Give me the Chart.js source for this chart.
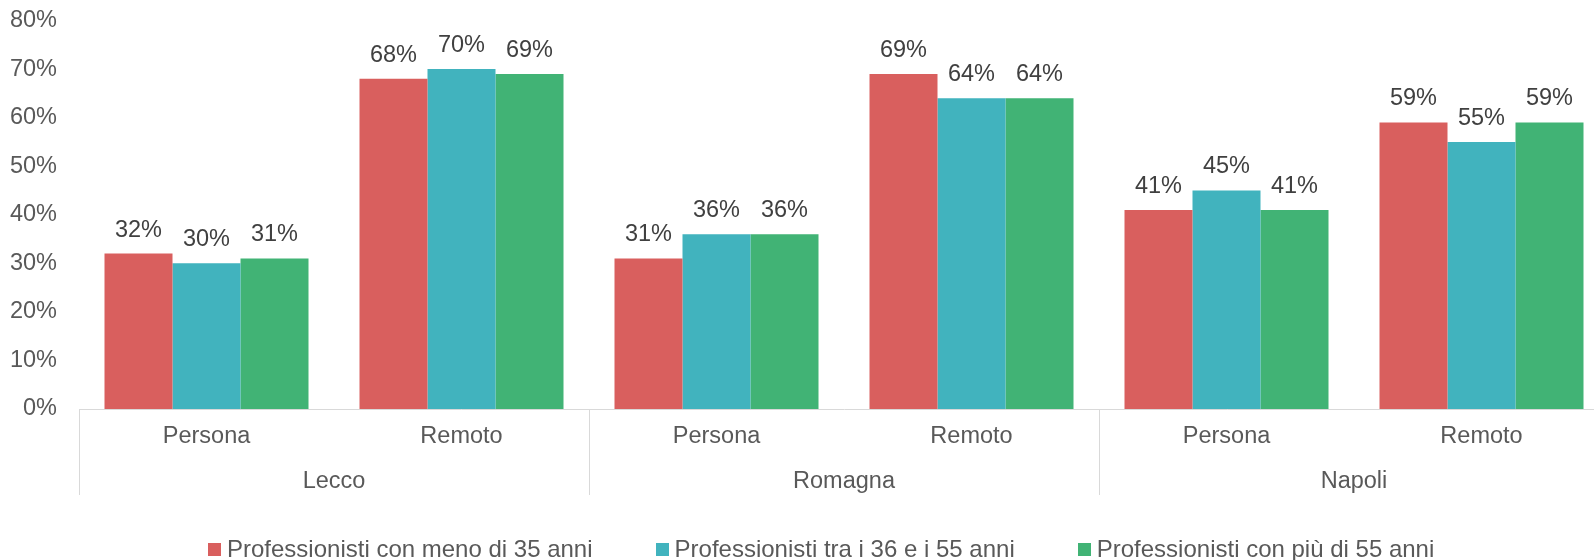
<!DOCTYPE html>
<html lang="it">

<head>
    <meta charset="UTF-8">
    <meta name="viewport" content="width=device-width, initial-scale=1.0">
    <title>Modalità di lavoro per fascia d'età</title>
    <style>
        html, body {
            margin: 0;
            padding: 0;
            overflow: hidden;
            background: #ffffff;
        }

        #wrap {
            position: relative;
            width: 1594px;
            height: 560px;
            overflow: hidden;
        }

        #chart {
            position: absolute;
            left: 0;
            top: 0;
        }

        #legend {
            position: absolute;
            left: 208px;
            top: 535px;
            display: flex;
            align-items: center;
            gap: 63px;
            font-family: "Liberation Sans", Arial, sans-serif;
            font-size: 24px;
            line-height: 28px;
            color: #595959;
            white-space: nowrap;
        }

        .legend-item {
            display: flex;
            align-items: center;
        }

        .legend-box {
            width: 13px;
            height: 13px;
            margin-right: 6px;
        }
    </style>
    <script src="https://cdn.jsdelivr.net/npm/chart.js"></script>
</head>

<body>
    <div id="wrap">
        <canvas id="chart" width="1636" height="560"></canvas>
        <div id="legend"></div>
    </div>
    <script>
        // city groups and the two modes shown under each of them
        const groups = ["Lecco", "Romagna", "Napoli"];
        const categories = ["Persona", "Remoto", "Persona", "Remoto", "Persona", "Remoto"];

        const seriesNames = [
            "Professionisti con meno di 35 anni",
            "Professionisti tra i 36 e i 55 anni",
            "Professionisti con più di 55 anni"
        ];
        const seriesColors = ["#D95F5E", "#41B3BE", "#41B375"];

        const under35 = [32, 68, 31, 69, 41, 59];
        const from36to55 = [30, 70, 36, 64, 45, 55];
        const over55 = [31, 69, 36, 64, 41, 59];

        const yMax = 80;
        const yStep = 10;

        const fontFamily = "'Liberation Sans', Arial, sans-serif";

        // writes "NN%" above every bar
        const valueLabels = {
            id: "valueLabels",
            afterDatasetsDraw(chart) {
                const ctx = chart.ctx;
                ctx.save();
                ctx.font = "23.5px " + fontFamily;
                ctx.fillStyle = "#404040";
                ctx.textAlign = "center";
                ctx.textBaseline = "alphabetic";
                chart.data.datasets.forEach((ds, i) => {
                    const meta = chart.getDatasetMeta(i);
                    meta.data.forEach((bar, j) => {
                        ctx.fillText(ds.data[j] + "%", bar.x, bar.y - 17);
                    });
                });
                ctx.restore();
            }
        };

        const datasets = [under35, from36to55, over55].map((values, i) => ({
            label: seriesNames[i],
            data: values,
            backgroundColor: seriesColors[i],
            borderWidth: 0,
            categoryPercentage: 0.8,
            barPercentage: 1.0
        }));

        // only the lines between city groups are visible
        const separatorColor = c => (c.index !== undefined && c.index % 2 === 0) ? "#d9d9d9" : "rgba(0,0,0,0)";

        const chart = new Chart(document.getElementById("chart"), {
            type: "bar",
            data: {
                labels: categories,
                datasets
            },
            options: {
                responsive: false,
                animation: false,
                layout: {
                    padding: { top: 20.5, right: 27, bottom: 0, left: 0 }
                },
                plugins: {
                    legend: { display: false },
                    tooltip: { enabled: false }
                },
                scales: {
                    x: {
                        position: "bottom",
                        grid: {
                            drawOnChartArea: false,
                            drawTicks: true,
                            tickLength: 86,
                            color: separatorColor,
                            tickColor: separatorColor,
                            lineWidth: 1
                        },
                        border: { color: "#d9d9d9", width: 1 },
                        ticks: {
                            color: "#595959",
                            font: { family: fontFamily, size: 23.5 },
                            padding: -73,
                            maxRotation: 0,
                            autoSkip: false
                        },
                        afterFit(scale) {
                            scale.height = 41;
                        }
                    },
                    x2: {
                        type: "category",
                        position: "bottom",
                        labels: groups,
                        offset: true,
                        grid: { display: false, drawTicks: false },
                        border: { display: false },
                        ticks: {
                            color: "#595959",
                            font: { family: fontFamily, size: 23.5 },
                            padding: 17,
                            maxRotation: 0,
                            autoSkip: false
                        },
                        afterFit(scale) {
                            scale.height = 110;
                        }
                    },
                    y: {
                        min: 0,
                        max: yMax,
                        grid: { display: false, drawTicks: false },
                        border: { display: false },
                        ticks: {
                            stepSize: yStep,
                            color: "#595959",
                            font: { family: fontFamily, size: 23.5 },
                            padding: 22,
                            callback: v => v + "%"
                        },
                        afterFit(scale) {
                            scale.width = 79;
                            // the label gap should not push the plot area down
                            scale.paddingTop = 0;
                            scale.paddingBottom = 0;
                        }
                    }
                }
            },
            plugins: [valueLabels]
        });

        // html legend built from the chart's datasets
        const legendEl = document.getElementById("legend");
        chart.data.datasets.forEach(ds => {
            const item = document.createElement("div");
            item.className = "legend-item";
            const box = document.createElement("span");
            box.className = "legend-box";
            box.style.background = ds.backgroundColor;
            const text = document.createElement("span");
            text.textContent = ds.label;
            item.appendChild(box);
            item.appendChild(text);
            legendEl.appendChild(item);
        });
    </script>
</body>

</html>
